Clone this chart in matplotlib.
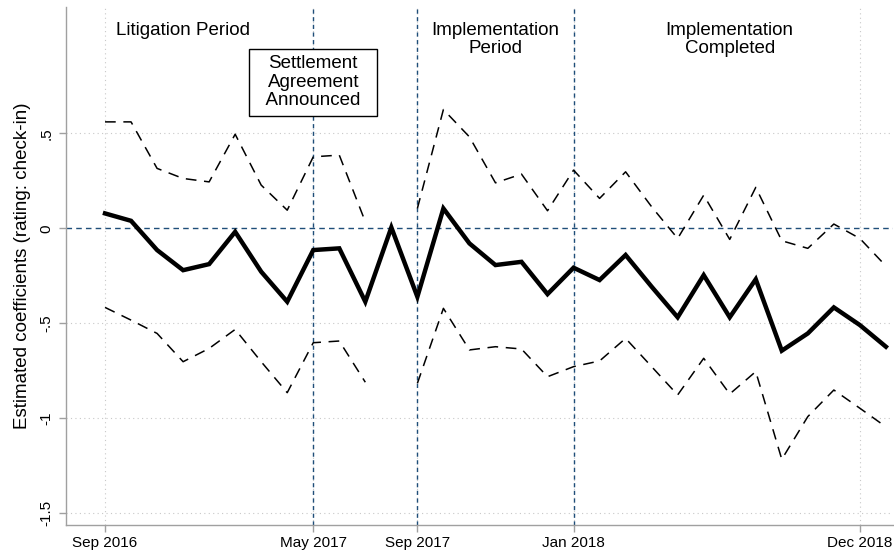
import numpy as np
import matplotlib
matplotlib.use('Agg')
import matplotlib.pyplot as plt

plt.rcParams['font.family'] = ['Liberation Sans', 'DejaVu Sans']

# periodos (indice mensal) e rotulos do eixo x
tick_pos = [0, 8, 12, 18, 29]
tick_labels = ['Sep 2016', 'May 2017', 'Sep 2017', 'Jan 2018', 'Dec 2018']

# coeficientes estimados
coef = [0.079, 0.040, -0.114, -0.220, -0.188, -0.018, -0.228, -0.386, -0.114, -0.105,
        -0.386, 0.005, -0.360, 0.105, -0.079, -0.193, -0.176, -0.346, -0.207, -0.272,
        -0.140, -0.307, -0.468, -0.246, -0.468, -0.268, -0.644, -0.553, -0.416, -0.509,
        -0.623]

# intervalo de confianca (nan = sem estimativa)
upper = [0.561, 0.561, 0.316, 0.263, 0.245, 0.496, 0.228, 0.096, 0.377, 0.386,
         0.035, np.nan, 0.105, 0.626, 0.482, 0.240, 0.286, 0.093, 0.307, 0.158,
         0.298, 0.114, -0.053, 0.175, -0.058, 0.216, -0.065, -0.105, 0.023, -0.053,
         -0.198]
lower = [-0.416, -0.483, -0.553, -0.702, -0.632, -0.532, -0.702, -0.865, -0.602, -0.593,
         -0.810, np.nan, -0.816, -0.421, -0.640, -0.623, -0.635, -0.781, -0.728, -0.698,
         -0.579, -0.728, -0.877, -0.684, -0.872, -0.754, -1.216, -0.991, -0.851, -0.947,
         -1.045]

# eventos (linhas verticais)
eventos = [8, 12, 18]

x = np.arange(len(coef))
navy = '#1f4e79'

fig = plt.figure(figsize=(8.94, 5.53), dpi=100)
ax = fig.add_axes([0.0738, 0.0506, 0.925, 0.9364])

# grade pontilhada
for yv in [0.5, -0.5, -1, -1.5]:
    ax.axhline(yv, color='#c8c8c8', lw=0.8, ls=(0, (1, 3)), zorder=0)
for xv in tick_pos:
    ax.axvline(xv, color='#c8c8c8', lw=0.8, ls=(0, (1, 3)), zorder=0)

ax.axhline(0, color=navy, lw=1.0, ls=(0, (4, 3)), zorder=1)
for xv in eventos:
    ax.axvline(xv, color=navy, lw=1.0, ls=(0, (3, 2.5)), zorder=1)

ax.plot(x, upper, color='black', lw=1.1, ls=(0, (7, 5)), zorder=2)
ax.plot(x, lower, color='black', lw=1.1, ls=(0, (7, 5)), zorder=2)
ax.plot(x, coef, color='black', lw=3.2, solid_joinstyle='miter', zorder=3)

ax.set_xlim(-1.5, 30.27)
ax.set_ylim(-1.562, 1.165)

ax.set_xticks(tick_pos)
ax.set_xticklabels(tick_labels, fontsize=11)
ax.set_yticks([0.5, 0, -0.5, -1, -1.5])
ax.set_yticklabels(['.5', '0', '-.5', '-1', '-1.5'], fontsize=11, rotation=90, va='center')
ax.tick_params(axis='both', color='#a0a0a0', length=5, width=1)
ax.tick_params(axis='x', pad=3)
ax.tick_params(axis='y', pad=4)
ax.set_ylabel('Estimated coefficients (rating: check-in)', fontsize=13.5, labelpad=6)

for s in ['top', 'right']:
    ax.spines[s].set_visible(False)
for s in ['left', 'bottom']:
    ax.spines[s].set_color('#a0a0a0')
    ax.spines[s].set_linewidth(1)

ax.text(3, 1.044, 'Litigation Period', fontsize=13.5, ha='center', va='center')
ax.text(8, 0.77, 'Settlement\nAgreement\n  Announced  ', fontsize=13.5, ha='center', va='center',
        linespacing=1.1, bbox=dict(boxstyle='square,pad=0.35', fc='white', ec='black', lw=1), zorder=4)
ax.text(15, 0.996, 'Implementation\nPeriod', fontsize=13.5, ha='center', va='center', linespacing=1.05)
ax.text(24, 0.996, 'Implementation\nCompleted', fontsize=13.5, ha='center', va='center', linespacing=1.05)

fig.savefig('out.png', dpi=100)
